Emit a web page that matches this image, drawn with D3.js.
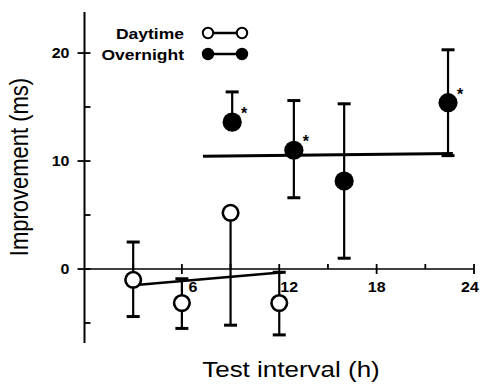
<!DOCTYPE html>
<html>
<head>
<meta charset="utf-8">
<script src="https://cdn.jsdelivr.net/npm/d3@7"></script>
<style>
  body { margin: 0; background: #fff; }
  text { font-family: Arial, "Liberation Sans", Helvetica, sans-serif; }
</style>
</head>
<body>
<script>
// values
const dayHours = [3, 6, 9, 12];
const dayMean = [-1.0, -3.15, 5.2, -3.15];
const dayLow = [-4.4, -5.5, -5.2, -6.1];
const dayHigh = [2.5, -0.9, null, -0.3];

const nightHours = [9.1, 12.9, 16.0, 22.4];
const nightMean = [13.6, 11.0, 8.15, 15.4];
const nightLow = [null, 6.6, 1.0, 10.5];
const nightHigh = [16.4, 15.6, 15.3, 20.3];
const nightStar = [true, true, false, true];

// fitted lines (start / end)
const dayFit = [[3, -1.5], [12.25, -0.3]];
const nightFit = [[7.3, 10.45], [22.7, 10.7]];

const xTicks = [6, 12, 18, 24];
const xMinor = [3, 9, 15, 21];
const yTicks = [0, 10, 20];
const yMinor = [-5, 5, 15];

const legendNames = ["Daytime", "Overnight"];

let width = 480, height = 384;
// the source figure is a bit squashed vertically
let squash = 0.88;

let svg = d3.select("body")
  .append("svg")
  .attr("width", width)
  .attr("height", height);

let x = d3.scaleLinear()
  .domain([0, 24])
  .range([84.5, 474]);

let y = d3.scaleLinear()
  .domain([-6.85, 23.8])
  .range([343, 12]);

// text helper: squashed label at (tx, ty)
const label = (parent, tx, ty, str, size, anchor, bold) => {
  return parent.append("g")
    .attr("transform", "translate(" + tx + "," + ty + ") scale(1," + squash + ")")
    .append("text")
    .attr("text-anchor", anchor)
    .style("font-size", size + "px")
    .style("font-weight", bold ? "bold" : "normal")
    .text(str);
};

// y axis line + ticks
svg.append("line")
  .attr("x1", x(0)).attr("x2", x(0))
  .attr("y1", y(23.8)).attr("y2", y(-6.85))
  .attr("stroke", "#000").attr("stroke-width", 2);

svg.append("g").selectAll("line")
  .data(yTicks)
  .enter().append("line")
  .attr("x1", x(0) - 7).attr("x2", x(0) + 6)
  .attr("y1", d => y(d)).attr("y2", d => y(d))
  .attr("stroke", "#000").attr("stroke-width", 1.8);

svg.append("g").selectAll("line")
  .data(yMinor)
  .enter().append("line")
  .attr("x1", x(0)).attr("x2", x(0) + 6)
  .attr("y1", d => y(d)).attr("y2", d => y(d))
  .attr("stroke", "#000").attr("stroke-width", 1.8);

let yLab = svg.append("g");
yTicks.forEach(d => label(yLab, x(0) - 15, y(d) + 5, d, 16, "end", true));

// x axis along zero
svg.append("line")
  .attr("x1", x(0)).attr("x2", x(24))
  .attr("y1", y(0)).attr("y2", y(0))
  .attr("stroke", "#000").attr("stroke-width", 1.6);

svg.append("g").selectAll("line")
  .data(xTicks)
  .enter().append("line")
  .attr("x1", d => x(d)).attr("x2", d => x(d))
  .attr("y1", y(0) - 5).attr("y2", y(0) + 5)
  .attr("stroke", "#000").attr("stroke-width", 1.8);

svg.append("g").selectAll("line")
  .data(xMinor)
  .enter().append("line")
  .attr("x1", d => x(d)).attr("x2", d => x(d))
  .attr("y1", y(0) - 5).attr("y2", y(0))
  .attr("stroke", "#000").attr("stroke-width", 1.8);

// tick labels: 6 and 12 sit right of their tick like in the figure
let xLabelShift = {6: 11, 12: 10, 18: 0, 24: -4};
let xLab = svg.append("g");
xTicks.forEach(d => label(xLab, x(d) + xLabelShift[d], y(0) + 23, d, 16, "middle", true));

// axis titles
svg.append("text")
  .attr("transform", "translate(28,167) rotate(-90) scale(" + squash + ",1)")
  .attr("text-anchor", "middle")
  .style("font-size", "25px")
  .text("Improvement (ms)");

svg.append("text")
  .attr("x", 291)
  .attr("y", 377)
  .attr("text-anchor", "middle")
  .attr("transform", "translate(0,377) scale(1," + squash + ") translate(0,-377)")
  .style("font-size", "26px")
  .text("Test interval (h)");

// fitted lines
let fitLine = d3.line()
  .x(d => x(d[0]))
  .y(d => y(d[1]));

svg.append("path")
  .datum(dayFit)
  .attr("d", fitLine)
  .attr("fill", "none")
  .attr("stroke", "#000")
  .attr("stroke-width", 2.6);

svg.append("path")
  .datum(nightFit)
  .attr("d", fitLine)
  .attr("fill", "none")
  .attr("stroke", "#000")
  .attr("stroke-width", 3);

// error bars
const drawErrors = (hours, mean, low, high) => {
  let g = svg.append("g")
    .attr("stroke", "#000")
    .attr("stroke-width", 2.2);
  hours.forEach((h, i) => {
    [low[i], high[i]].forEach(v => {
      if (v === null) return;
      g.append("line")
        .attr("x1", x(h)).attr("x2", x(h))
        .attr("y1", y(mean[i])).attr("y2", y(v));
      g.append("line")
        .attr("x1", x(h) - 6.5).attr("x2", x(h) + 6.5)
        .attr("y1", y(v)).attr("y2", y(v))
        .attr("stroke-width", 3);
    });
  });
};

drawErrors(dayHours, dayMean, dayLow, dayHigh);
drawErrors(nightHours, nightMean, nightLow, nightHigh);

// points
svg.append("g").selectAll("circle")
  .data(dayHours)
  .enter().append("circle")
  .attr("cx", d => x(d))
  .attr("cy", (d, i) => y(dayMean[i]))
  .attr("r", 7.8)
  .attr("fill", "#fff")
  .attr("stroke", "#000")
  .attr("stroke-width", 2.6);

svg.append("g").selectAll("circle")
  .data(nightHours)
  .enter().append("circle")
  .attr("cx", d => x(d))
  .attr("cy", (d, i) => y(nightMean[i]))
  .attr("r", 9.6)
  .attr("fill", "#000");

// significance stars
svg.append("g").selectAll("text")
  .data(nightHours.filter((d, i) => nightStar[i]))
  .enter().append("text")
  .attr("x", d => x(d) + 12)
  .attr("y", d => y(nightMean[nightHours.indexOf(d)]) - 3)
  .attr("text-anchor", "middle")
  .style("font-size", "16px")
  .style("font-weight", "bold")
  .text("*");

// legend
let legend = svg.append("g");
legendNames.forEach((name, i) => {
  let ly = 33 + i * 21;
  label(legend, 184, ly + 5.5, name, 17.5, "end", true);
  legend.append("line")
    .attr("x1", 208).attr("x2", 242)
    .attr("y1", ly).attr("y2", ly)
    .attr("stroke", "#000").attr("stroke-width", 2.4);
  [208, 242].forEach(cx => {
    legend.append("circle")
      .attr("cx", cx).attr("cy", ly)
      .attr("r", i === 0 ? 5.2 : 6.2)
      .attr("fill", i === 0 ? "#fff" : "#000")
      .attr("stroke", "#000")
      .attr("stroke-width", i === 0 ? 2 : 0);
  });
});
</script>
</body>
</html>
